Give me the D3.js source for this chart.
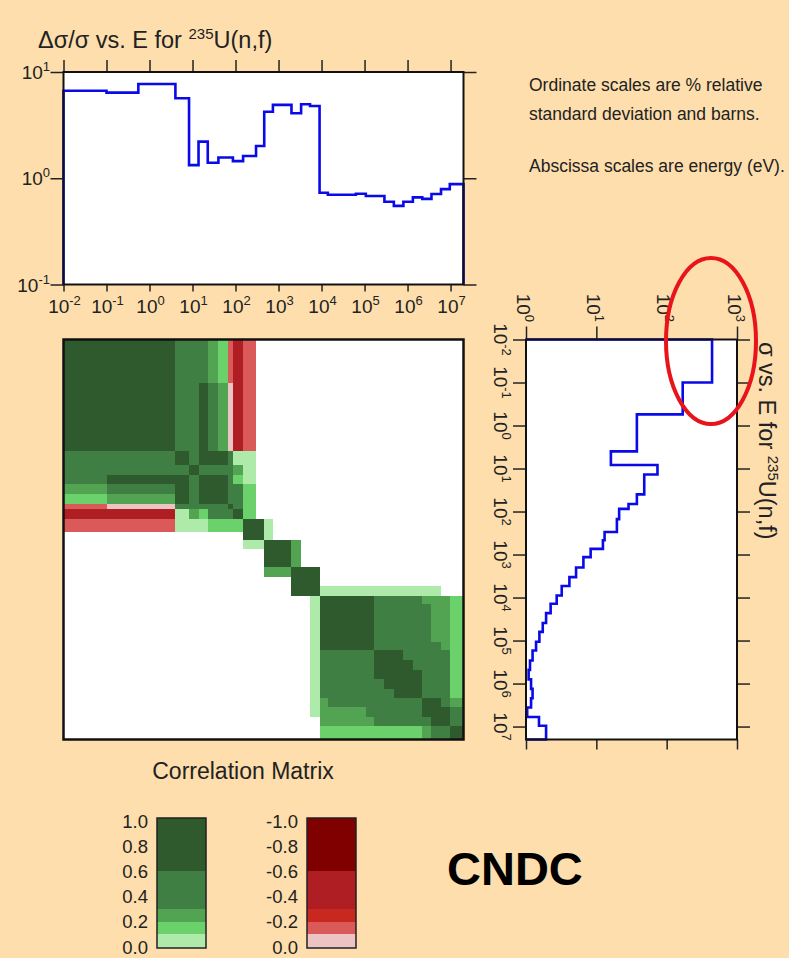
<!DOCTYPE html>
<html><head><meta charset="utf-8">
<script src="https://cdn.jsdelivr.net/npm/d3@7"></script>
<style>body{margin:0;background:#fddeac;} svg{display:block}</style>
</head><body><svg id="c" width="789" height="958"></svg>
<script>
// ---------------- DATA ----------------
// energy group boundaries (eV), 33 groups
const groupBounds = [1e-2, 0.1, 0.55, 4.0, 8.3, 13.8, 22.6, 40, 67, 87, 150, 300, 465, 740, 1150, 2000, 3350, 5400, 9000,
  1.4e4, 2.3e4, 3.9e4, 6.3e4, 1.07e5, 1.7e5, 2.9e5, 4.8e5, 8.0e5, 1.33e6, 2.2e6, 3.6e6, 6.0e6, 9.6e6, 2.0e7];
// relative standard deviation (%) per group
const relStdDev = [6.67, 6.4, 7.7, 5.66, 1.33, 2.21, 1.40, 1.57, 1.57, 1.45, 1.62, 2.01, 4.23, 4.9, 4.9, 4.09, 4.97, 4.79,
  0.73, 0.70, 0.70, 0.70, 0.715, 0.68, 0.68, 0.60, 0.55, 0.60, 0.66, 0.64, 0.71, 0.79, 0.88];
// cross section (barns) per group
const crossSection = [442, 169, 37.7, 16.1, 74, 48, 48, 37.7, 28.7, 21.1, 19.6, 13.1, 12.4, 8.3, 6.55, 5.15, 4.14, 3.22,
  2.73, 2.24, 1.93, 1.73, 1.55, 1.39, 1.24, 1.14, 1.09, 1.18, 1.24, 1.18, 1.04, 1.53, 1.93];
// correlation blocks: [rowFrom, rowTo, colFrom, colTo, correlation] (group indices, symmetric)
const corrBlocks = [
  [0,0,0,2,0.8],[0,0,3,5,0.45],[0,0,6,6,0.25],[0,0,7,7,0.15],[0,0,8,8,-0.15],[0,0,9,9,-0.45],[0,0,10,10,-0.15],
  [1,2,1,2,0.8],[1,2,3,4,0.45],[1,2,5,5,0.8],[1,2,6,6,0.45],[1,2,7,7,0.25],[1,2,8,8,-0.05],[1,2,9,9,-0.45],[1,2,10,10,-0.15],
  [3,3,3,3,0.8],[3,3,4,4,0.45],[3,3,5,7,0.8],[3,3,8,8,0.45],[3,3,9,10,0.05],
  [4,4,4,4,0.8],[4,4,5,8,0.45],[4,4,9,9,0.25],[4,4,10,10,0.05],
  [5,7,5,7,0.8],[5,7,8,8,0.45],[5,5,9,9,0.15],[5,5,10,10,0.05],[6,7,9,9,0.45],[6,7,10,10,0.15],
  [8,8,8,8,0.8],[8,8,9,9,0.45],[8,8,10,10,0.15],
  [9,9,9,9,0.8],[9,9,10,10,0.15],
  [10,11,10,11,0.8],[10,11,12,12,0.05],
  [12,14,12,14,0.8],[12,14,15,15,0.25],
  [15,17,15,17,0.8],[17,17,18,30,0.05],
  [18,23,18,23,0.8],[18,18,24,28,0.45],[18,18,29,31,0.25],[19,22,24,29,0.45],[19,22,30,31,0.25],
  [23,23,24,30,0.45],[23,23,31,31,0.25],[18,23,32,32,0.15],
  [24,24,24,26,0.8],[24,24,27,31,0.45],[25,25,25,27,0.8],[25,25,28,31,0.45],[26,26,26,28,0.8],[26,26,29,31,0.45],
  [27,27,27,28,0.8],[27,27,29,31,0.45],[28,28,28,28,0.8],[28,28,29,31,0.45],[24,28,32,32,0.15],
  [29,29,29,30,0.8],[29,29,31,31,0.45],[29,29,32,32,0.25],[30,31,30,31,0.8],[30,31,32,32,0.45],[32,32,32,32,0.8]
];
// colour classes
const corrThresholds = [-0.6, -0.3, -0.2, -0.1, 0, 0.1, 0.2, 0.3, 0.6];
const corrColors = ['#800000','#ae1e22','#c8281f','#da5a5a','#ecc4c4','#aeeaaa','#6bd16b','#52a352','#407f44','#2e5a2e'];
// legend
const greenStops = [0, 0.1, 0.2, 0.3, 0.6, 1.0];
const greenColors = ['#aeeaaa','#6bd16b','#52a352','#407f44','#2e5a2e'];
const redColors = ['#ecc4c4','#da5a5a','#c8281f','#ae1e22','#800000'];
const legendTicks = [0, 0.2, 0.4, 0.6, 0.8, 1.0];
// tick exponents
const energyExps = [-2,-1,0,1,2,3,4,5,6,7];
const relExps = [-1,0,1];
const sigmaExps = [0,1,2,3];

// ---------------- DRAW ----------------
const FONT = "'Liberation Sans', Arial, Helvetica, sans-serif";
const svg = d3.select('#c').attr('font-family', FONT);
svg.append('rect').attr('width',789).attr('height',958).attr('fill','#fddeac');
const nG = relStdDev.length;
const E0 = groupBounds[0], E1 = groupBounds[nG];
const TK = 19, TS = 13, TD = 8; // tick label sizes

function pow10Label(t, exp){
  t.append('tspan').attr('font-size', TK).text('10');
  t.append('tspan').attr('font-size', TS).attr('dy', -TD).text(String(exp));
}
function styleAxis(g){ g.select('.domain').remove(); g.selectAll('line').attr('stroke','#222').attr('stroke-width',1.5); }

// ---- top plot ----
const xT = d3.scaleLog().domain([E0, E1]).range([63.5, 463.5]);
const yT = d3.scaleLog().domain([0.1, 10]).range([284.5, 72]);
const topG = svg.append('g');
topG.append('rect').attr('x',63.5).attr('y',72).attr('width',400).attr('height',212.5).attr('fill','#fff');
const decs = energyExps.map(e => Math.pow(10,e));
topG.append('g').attr('transform','translate(0,72)').call(d3.axisTop(xT).tickValues(decs).tickSize(12).tickFormat('')).call(styleAxis);
topG.append('g').attr('transform','translate(0,284.5)').call(d3.axisBottom(xT).tickValues(decs).tickSize(7).tickFormat('')).call(styleAxis);
const relT = relExps.map(e => Math.pow(10,e));
topG.append('g').attr('transform','translate(63.5,0)').call(d3.axisLeft(yT).tickValues(relT).tickSize(13).tickFormat('')).call(styleAxis);
topG.append('g').attr('transform','translate(463.5,0)').call(d3.axisRight(yT).tickValues(relT).tickSize(13).tickFormat('')).call(styleAxis);
energyExps.forEach(e => {
  const t = topG.append('text').attr('x', xT(Math.pow(10,e))+1).attr('y', 313).attr('text-anchor','middle').attr('fill','#222');
  pow10Label(t, e);
});
relExps.forEach(e => {
  const t = topG.append('text').attr('x', 50).attr('y', yT(Math.pow(10,e))+7).attr('text-anchor','end').attr('fill','#222');
  pow10Label(t, e);
});
const topPts = [[E0, 0.1]];
relStdDev.forEach((v,i) => { topPts.push([groupBounds[i], v]); topPts.push([groupBounds[i+1], v]); });
topPts.push([E1, 0.1]);
topG.append('path').attr('d', d3.line().x(d=>xT(d[0])).y(d=>yT(d[1]))(topPts))
  .attr('fill','none').attr('stroke','#0a0ae8').attr('stroke-width',2.6);
topG.append('rect').attr('x',63.5).attr('y',72).attr('width',400).attr('height',212.5).attr('fill','none').attr('stroke','#111').attr('stroke-width',2);
const tt = topG.append('text').attr('x',38).attr('y',48).attr('font-size',23.5).attr('fill','#222');
tt.append('tspan').text('Δσ/σ vs. E for ');
tt.append('tspan').attr('font-size',15).attr('dy',-9).text('235');
tt.append('tspan').attr('dy',9).text('U(n,f)');

// notes
const notes = [['Ordinate scales are % relative',91],['standard deviation and barns.',120],['Abscissa scales are energy (eV).',172]];
notes.forEach(n => svg.append('text').attr('x',529).attr('y',n[1]).attr('font-size',17.5).attr('fill','#222').text(n[0]));

// ---- right plot ----
const xR = d3.scaleLog().domain([1, 1000]).range([526, 737]);
const yR = d3.scaleLog().domain([E0, E1]).range([339.5, 739.5]);
const rp = svg.append('g');
rp.append('rect').attr('x',526).attr('y',339.5).attr('width',211).attr('height',400).attr('fill','#fff');
const sigT = sigmaExps.map(e=>Math.pow(10,e));
rp.append('g').attr('transform','translate(0,339.5)').call(d3.axisTop(xR).tickValues(sigT).tickSize(13).tickFormat('')).call(styleAxis);
rp.append('g').attr('transform','translate(0,739.5)').call(d3.axisBottom(xR).tickValues(sigT).tickSize(10).tickFormat('')).call(styleAxis);
rp.append('g').attr('transform','translate(526,0)').call(d3.axisLeft(yR).tickValues(decs).tickSize(13).tickFormat('')).call(styleAxis);
rp.append('g').attr('transform','translate(737,0)').call(d3.axisRight(yR).tickValues(decs).tickSize(13).tickFormat('')).call(styleAxis);
sigmaExps.forEach(e => {
  const t = rp.append('text').attr('transform',`translate(${xR(Math.pow(10,e))-9.5},322) rotate(90)`).attr('text-anchor','end').attr('fill','#222');
  pow10Label(t, e);
});
energyExps.forEach(e => {
  const t = rp.append('text').attr('transform',`translate(494,${yR(Math.pow(10,e))}) rotate(90)`).attr('text-anchor','middle').attr('fill','#222');
  pow10Label(t, e);
});
const rPts = [[1, E0]];
crossSection.forEach((v,i) => { rPts.push([v, groupBounds[i]]); rPts.push([v, groupBounds[i+1]]); });
rPts.push([1, E1]);
rp.append('path').attr('d', d3.line().x(d=>xR(d[0])).y(d=>yR(d[1]))(rPts))
  .attr('fill','none').attr('stroke','#0a0ae8').attr('stroke-width',2.6);
rp.append('rect').attr('x',526).attr('y',339.5).attr('width',211).attr('height',400).attr('fill','none').attr('stroke','#111').attr('stroke-width',2);
const rt = rp.append('text').attr('transform','translate(759,342) rotate(90)').attr('font-size',23.5).attr('fill','#222');
rt.append('tspan').text('σ vs. E for ');
rt.append('tspan').attr('font-size',15).attr('dy',-9).text('235');
rt.append('tspan').attr('dy',9).text('U(n,f)');
svg.append('ellipse').attr('cx',711).attr('cy',341).attr('rx',45).attr('ry',83)
  .attr('fill','none').attr('stroke','#e8141c').attr('stroke-width',4);

// ---- correlation matrix ----
const xM = d3.scaleLog().domain([E0, E1]).range([63.5, 463.5]);
const yM = d3.scaleLog().domain([E0, E1]).range([339.5, 739.5]);
const col = d3.scaleThreshold().domain(corrThresholds).range(corrColors);
const M = Array.from({length:nG}, () => Array(nG).fill(null));
corrBlocks.forEach(([r0,r1,c0,c1,v]) => {
  for (let i=r0;i<=r1;i++) for (let j=c0;j<=c1;j++){ M[i][j]=v; M[j][i]=v; }
});
const cells = [];
M.forEach((row,i)=>row.forEach((v,j)=>{ if(v!==null) cells.push({i,j,v}); }));
const mg = svg.append('g');
mg.append('rect').attr('x',63.5).attr('y',339.5).attr('width',400).attr('height',400).attr('fill','#fff');
mg.selectAll('rect.cell').data(cells).join('rect').attr('class','cell')
  .attr('x', d=>xM(groupBounds[d.j])).attr('width', d=>xM(groupBounds[d.j+1])-xM(groupBounds[d.j]))
  .attr('y', d=>yM(groupBounds[d.i])).attr('height', d=>yM(groupBounds[d.i+1])-yM(groupBounds[d.i]))
  .attr('fill', d=>col(d.v)).attr('shape-rendering','crispEdges');
mg.append('rect').attr('x',63.5).attr('y',339.5).attr('width',400).attr('height',400).attr('fill','none').attr('stroke','#111').attr('stroke-width',2.5);
svg.append('text').attr('x',243).attr('y',779).attr('text-anchor','middle').attr('font-size',23).attr('fill','#222').text('Correlation Matrix');

// ---- legend ----
const yL = d3.scaleLinear().domain([0,1]).range([947, 821]);
function legendBar(x0, colors, neg){
  const g = svg.append('g');
  colors.forEach((c,k) => {
    const lo = greenStops[k], hi = greenStops[k+1];
    const yTop = k===colors.length-1 ? yL(hi)-3 : yL(hi);
    const yBot = k===0 ? yL(lo)+1 : yL(lo);
    g.append('rect').attr('x',x0).attr('y',yTop).attr('width',49).attr('height',yBot-yTop).attr('fill',c).attr('shape-rendering','crispEdges');
  });
  g.append('rect').attr('x',x0).attr('y',yL(1)-3).attr('width',49).attr('height',yL(0)-yL(1)+4).attr('fill','none').attr('stroke','#222').attr('stroke-width',1.5);
  legendTicks.forEach(v => {
    const lab = neg ? (v===0 ? '0.0' : '-'+v.toFixed(1)) : v.toFixed(1);
    g.append('text').attr('x',x0-9).attr('y',yL(v)+6.5).attr('text-anchor','end').attr('font-size',18.5).attr('fill','#222').text(lab);
  });
}
legendBar(157, greenColors, false);
legendBar(307, redColors, true);

svg.append('text').attr('x',447).attr('y',885).attr('font-size',47).attr('font-weight','bold').attr('fill','#000').text('CNDC');
</script></body></html>
